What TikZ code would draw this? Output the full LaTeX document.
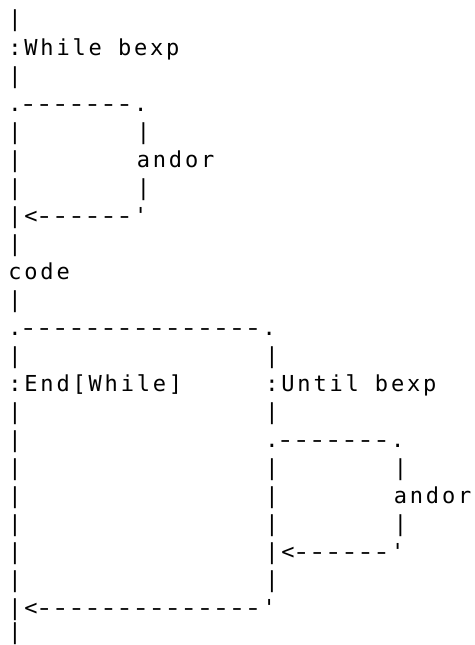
\documentclass[tikz,border=0pt]{standalone}
\usepackage{fontspec}
\usepackage{graphicx}
\newfontfamily\ascfont{DejaVu Sans Mono}[LetterSpace=12.8,Ligatures=TeXOff]
\newcommand\cell[4]{\node[asc] (#1) at ([shift={(8.4pt,1pt)}]#2,#3) {#4};}
% one dash cell: a somewhat wider hyphen
\newcommand\hy{\makebox[16.06pt][l]{\hspace{-2.3pt}\scalebox{1.35}[1]{-}}}
\tikzset{asc/.style={anchor=base west,inner sep=0pt,outer sep=0pt,
  font={\ascfont\fontsize{22}{22}\selectfont\spaceskip=16.06pt\relax}}}
\begin{document}
\begin{tikzpicture}[x=16.06pt,y=-28pt]
\useasboundingbox (0pt,0pt) rectangle (474pt,-645pt);
\cell{r1}{0}{1}{|}
\cell{while}{0}{2}{:While bexp}
\cell{r3}{0}{3}{|}
\cell{r4}{0}{4}{.\hy\hy\hy\hy\hy\hy\hy.}
\cell{r5a}{0}{5}{|}
\cell{r5b}{8}{5}{|}
\cell{r6a}{0}{6}{|}
\cell{andorA}{8}{6}{andor}
\cell{r7a}{0}{7}{|}
\cell{r7b}{8}{7}{|}
\cell{r8}{0}{8}{|<\hy\hy\hy\hy\hy\hy'}
\cell{r9}{0}{9}{|}
\cell{code}{0}{10}{code}
\cell{r11}{0}{11}{|}
\cell{r12}{0}{12}{.\hy\hy\hy\hy\hy\hy\hy\hy\hy\hy\hy\hy\hy\hy\hy.}
\cell{r13a}{0}{13}{|}
\cell{r13b}{16}{13}{|}
\cell{endw}{0}{14}{:End[While]}
\cell{until}{16}{14}{:Until bexp}
\cell{r15a}{0}{15}{|}
\cell{r15b}{16}{15}{|}
\cell{r16a}{0}{16}{|}
\cell{r16b}{16}{16}{.\hy\hy\hy\hy\hy\hy\hy.}
\cell{r17a}{0}{17}{|}
\cell{r17b}{16}{17}{|}
\cell{r17c}{24}{17}{|}
\cell{r18a}{0}{18}{|}
\cell{r18b}{16}{18}{|}
\cell{andorB}{24}{18}{andor}
\cell{r19a}{0}{19}{|}
\cell{r19b}{16}{19}{|}
\cell{r19c}{24}{19}{|}
\cell{r20a}{0}{20}{|}
\cell{r20b}{16}{20}{|<\hy\hy\hy\hy\hy\hy'}
\cell{r21a}{0}{21}{|}
\cell{r21b}{16}{21}{|}
\cell{r22}{0}{22}{|<\hy\hy\hy\hy\hy\hy\hy\hy\hy\hy\hy\hy\hy\hy'}
\node[asc] (r23) at ([shift={(8.4pt,4.5pt)}]0,23) {|};
\end{tikzpicture}
\end{document}
